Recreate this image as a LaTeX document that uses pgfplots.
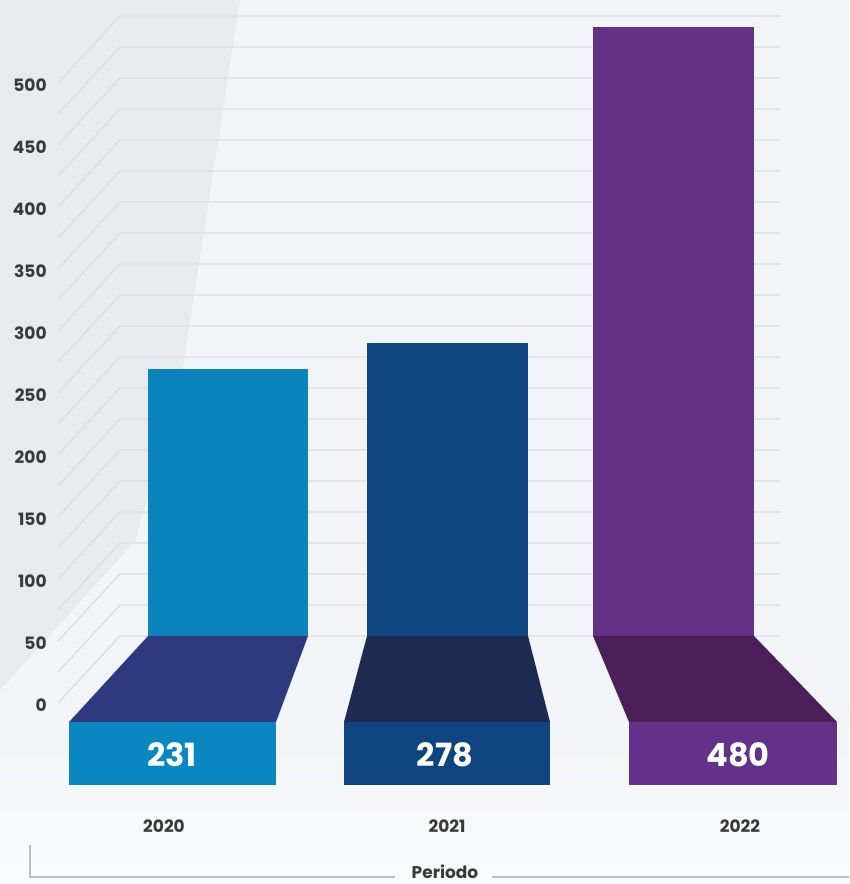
\documentclass[border=0pt]{standalone}
\usepackage{fontspec}
\setmainfont{Poppins}
\usepackage{pgfplots}
\usepackage{pgfplotstable}
\pgfplotsset{compat=1.18}
\definecolor{bgc}{HTML}{F2F4F7}
\definecolor{bgl}{HTML}{E8EAED}
\definecolor{gridc}{HTML}{DCDFE3}
\definecolor{txt}{HTML}{3A3A3A}
\definecolor{barA}{HTML}{0B84BE}
\definecolor{floorA}{HTML}{2F3A7E}
\definecolor{boxA}{HTML}{0A87C0}
\definecolor{barB}{HTML}{0F4682}
\definecolor{floorB}{HTML}{1C2B4F}
\definecolor{boxB}{HTML}{0E4580}
\definecolor{barC}{HTML}{633287}
\definecolor{floorC}{HTML}{4B1F58}
\definecolor{boxC}{HTML}{64318A}
% value labels shown on the front boxes
\pgfplotstableread{
x y label
172 -96 231
445 -96 278
738 -96 480
}\valuelabels
\begin{document}
\begin{tikzpicture}
\begin{axis}[
  set layers, axis on top,
  scale only axis, width=424.5pt, height=442pt,
  xmin=0, xmax=849, ymin=-200, ymax=512.9,
  axis line style={draw=none}, major tick length=0pt,
  ytick={0,50,...,500},
  /pgf/number format/assume math mode=true,
  yticklabel style={anchor=east, inner sep=0pt, xshift=23.5pt, yshift=-34.5pt,
    font=\bfseries\fontsize{8.5}{10}\selectfont, text=txt},
  xtick={164,447,740}, xticklabels={2020,2021,2022},
  xticklabel style={anchor=center, inner sep=0pt, yshift=29pt,
    font=\bfseries\fontsize{8.5}{10}\selectfont, text=txt},
  clip=false,
]
% background
\fill[bgc] (axis cs:0,-200) rectangle (axis cs:849,512.9);
\fill[bgl] (axis cs:0,512.9) -- (axis cs:240,512.9) -- (axis cs:181,207) -- (axis cs:135,76.6) -- (axis cs:0,-43.5) -- cycle;
\shade[top color=bgc, bottom color=white!55!bgc] (axis cs:0,-60) rectangle (axis cs:849,-200);
% grid on the back plane with diagonals
\pgfplotsinvokeforeach{0,25,...,500}{
  \draw[gridc, line width=0.7pt] (axis cs:780,#1) -- (axis cs:120,#1) -- ++(-31pt,-33.5pt);
}
% back bars (heights as drawn)
\addplot[ybar, bar width=160, bar shift=0pt, fill=barA, draw=none] coordinates {(228,215.3)};
\addplot[ybar, bar width=161, bar shift=0pt, fill=barB, draw=none] coordinates {(447.5,236.3)};
\addplot[ybar, bar width=161, bar shift=0pt, fill=barC, draw=none] coordinates {(673.5,491)};
% floors
\addplot[fill=floorA, draw=none] coordinates {(148,0) (308,0) (276,-69.4) (69,-69.4)} -- cycle;
\addplot[fill=floorB, draw=none] coordinates {(367,0) (528,0) (550,-69.4) (344,-69.4)} -- cycle;
\addplot[fill=floorC, draw=none] coordinates {(593,0) (754,0) (837,-69.4) (629,-69.4)} -- cycle;
% front boxes
\addplot[fill=boxA, draw=none] coordinates {(69,-69.4) (276,-69.4) (276,-120.2) (69,-120.2)} -- cycle;
\addplot[fill=boxB, draw=none] coordinates {(344,-69.4) (550,-69.4) (550,-120.2) (344,-120.2)} -- cycle;
\addplot[fill=boxC, draw=none] coordinates {(629,-69.4) (837,-69.4) (837,-120.2) (629,-120.2)} -- cycle;
% value labels
\addplot[draw=none, mark=none, nodes near coords, point meta=explicit symbolic,
  nodes near coords style={anchor=center, inner sep=0pt, text=white,
    font=\bfseries\fontsize{16}{18}\selectfont}]
  table[x=x, y=y, meta=label] {\valuelabels};
% bottom axis line with title
\draw[gridc!85!black, line width=0.7pt] (axis cs:30,-168.5) -- (axis cs:30,-194.4) -- (axis cs:395,-194.4);
\draw[gridc!85!black, line width=0.7pt] (axis cs:492,-194.4) -- (axis cs:849,-194.4);
\node[text=txt, font=\bfseries\fontsize{8.5}{10}\selectfont, anchor=center] at (axis cs:445,-190.5) {Periodo};
\end{axis}
\pgfresetboundingbox
\path (current axis.south west) rectangle (current axis.north east);
\end{tikzpicture}
\end{document}
